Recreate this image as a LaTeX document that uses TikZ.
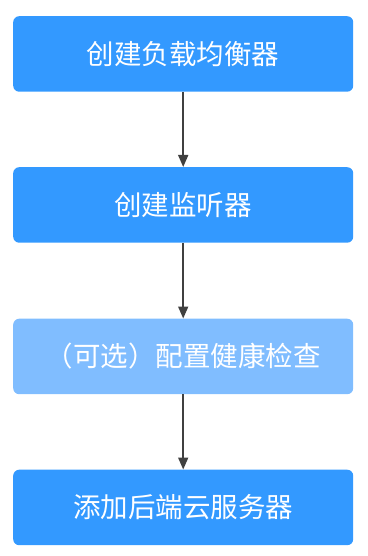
\documentclass[tikz,border=0pt]{standalone}
\usepackage{fontspec}
\newfontfamily\cjk{Noto Sans CJK SC}
\usetikzlibrary{arrows.meta}
\definecolor{boxblue}{HTML}{3399FF}
\definecolor{boxlight}{HTML}{80BDFF}
\definecolor{arrowgray}{HTML}{404040}
\tikzset{
  stepbox/.style={fill=boxblue, draw=none, rounded corners=6pt, minimum width=340pt, minimum height=75.5pt, text=white, font=\cjk\fontsize{27.5}{32}\selectfont, inner sep=0pt, anchor=north west},
  lightbox/.style={stepbox, fill=boxlight},
  flow/.style={draw=arrowgray, line width=1.6pt, -{Triangle[length=12pt,width=10pt]}}
}
\begin{document}
\begin{tikzpicture}[x=1pt,y=1pt]
\useasboundingbox (0,0) rectangle (367,-556);
\node[stepbox] (a) at (13,-16) {创建负载均衡器};
\node[stepbox] (b) at (13,-167) {创建监听器};
\node[lightbox] (c) at (13,-318.5) {（可选）配置健康检查};
\node[stepbox] (d) at (13,-469.5) {添加后端云服务器};
\draw[flow] (a.south) -- (b.north);
\draw[flow] (b.south) -- (c.north);
\draw[flow] (c.south) -- (d.north);
\end{tikzpicture}
\end{document}
